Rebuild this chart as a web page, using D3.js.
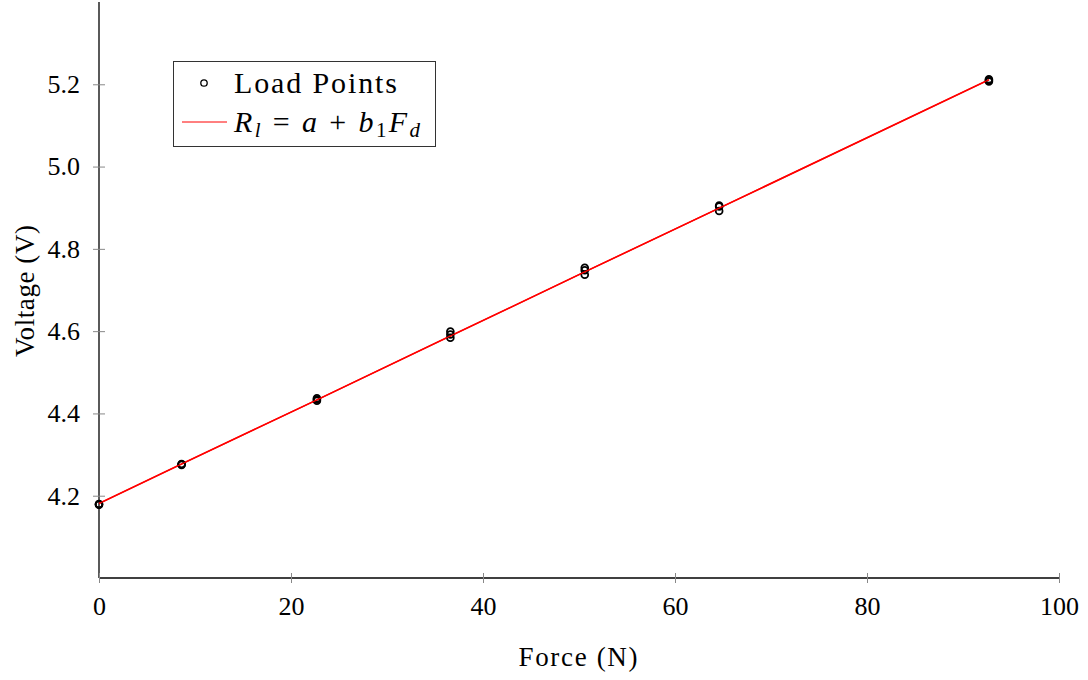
<!DOCTYPE html>
<html><head><meta charset="utf-8">
<script src="https://cdn.jsdelivr.net/npm/d3@7"></script>
<style>
body{margin:0;background:#fff;}
text{font-family:"Liberation Serif","DejaVu Serif",serif;}
</style></head>
<body><svg id="c" width="1088" height="680"></svg>
<script>
// Data
const forceLevels = [0, 8.6, 22.7, 36.6, 50.6, 64.6, 92.7];
const pointForce = [0,0,0, 8.6,8.6,8.6, 22.7,22.7,22.7, 36.6,36.6,36.6, 50.6,50.6,50.6, 64.6,64.6,64.6, 92.7,92.7,92.7];
const pointVoltage = [4.178,4.179,4.180, 4.275,4.277,4.276, 4.431,4.434,4.437, 4.584,4.592,4.599, 4.737,4.748,4.754, 4.892,4.905,4.903, 5.207,5.210,5.212];
const fitVoltage = [4.181, 4.277, 4.433, 4.588, 4.744, 4.899, 5.211];
const xTicks = [0, 20, 40, 60, 80, 100];
const yTicks = [4.2, 4.4, 4.6, 4.8, 5.0, 5.2];

const svg = d3.select("#c");
const x = d3.scaleLinear().domain([0, 100]).range([99, 1059]);
const y = d3.scaleLinear().domain([4.0, 5.4]).range([578, 2]);

// axes lines
svg.append("line").attr("x1",99).attr("x2",1059).attr("y1",578).attr("y2",578).attr("stroke","#000").attr("stroke-width",1.3);
svg.append("line").attr("x1",99).attr("x2",99).attr("y1",2).attr("y2",578).attr("stroke","#000").attr("stroke-width",1.3);

// x axis ticks
const xa = svg.append("g").attr("transform","translate(0,578)")
  .call(d3.axisBottom(x).tickValues(xTicks).tickSize(0).tickPadding(19).tickFormat(d3.format("d")));
xa.select(".domain").remove();
xa.selectAll("text").attr("font-size",26).attr("font-family","Liberation Serif, serif").attr("fill","#000");
xa.selectAll(".tick").append("line").attr("y1",-5).attr("y2",5).attr("stroke","#888").attr("stroke-width",1);

const ya = svg.append("g").attr("transform","translate(99,0)")
  .call(d3.axisLeft(y).tickValues(yTicks).tickSize(0).tickPadding(19).tickFormat(d3.format(".1f")));
ya.select(".domain").remove();
ya.selectAll("text").attr("font-size",26).attr("font-family","Liberation Serif, serif").attr("fill","#000");
ya.selectAll(".tick").append("line").attr("x1",-6).attr("x2",6).attr("stroke","#888").attr("stroke-width",1);

// fit line
const line = d3.line().x((d,i)=>x(forceLevels[i])).y(d=>y(d));
svg.append("path").datum(fitVoltage).attr("d",line).attr("fill","none").attr("stroke","#ff0000").attr("stroke-width",1.6);

// points
svg.append("g").selectAll("circle").data(pointVoltage).join("circle")
  .attr("cx",(d,i)=>x(pointForce[i])).attr("cy",d=>y(d)).attr("r",3.4)
  .attr("fill","none").attr("stroke","#000").attr("stroke-width",1.8);

// fit drawn over markers as in reference
svg.append("path").datum(fitVoltage).attr("d",line).attr("fill","none").attr("stroke","#ff0000").attr("stroke-width",1.2);

// legend
const lg = svg.append("g");
lg.append("rect").attr("x",173.5).attr("y",61.5).attr("width",262).attr("height",85).attr("fill","#fff").attr("stroke","#333").attr("stroke-width",1);
lg.append("circle").attr("cx",204).attr("cy",83).attr("r",3.2).attr("fill","none").attr("stroke","#000").attr("stroke-width",1.3);
lg.append("text").attr("x",234).attr("y",93).attr("font-size",30).attr("textLength",163).attr("lengthAdjust","spacing").text("Load Points");
lg.append("line").attr("x1",182).attr("x2",227).attr("y1",122).attr("y2",122).attr("stroke","#ff0000").attr("stroke-width",1);
const t2 = lg.append("text").attr("x",234).attr("y",132).attr("font-size",30).attr("textLength",186).attr("lengthAdjust","spacing");
t2.append("tspan").attr("font-style","italic").text("R");
t2.append("tspan").attr("font-style","italic").attr("font-size",21).attr("dy",5).text("l");
t2.append("tspan").attr("dy",-5).text(" = ");
t2.append("tspan").attr("font-style","italic").text("a");
t2.append("tspan").text(" + ");
t2.append("tspan").attr("font-style","italic").text("b");
t2.append("tspan").attr("font-size",21).attr("dy",5).text("1");
t2.append("tspan").attr("dy",-5).attr("font-style","italic").text("F");
t2.append("tspan").attr("font-style","italic").attr("font-size",21).attr("dy",5).text("d");

// axis labels
svg.append("text").attr("x",578).attr("y",666).attr("text-anchor","middle").attr("font-size",27).attr("textLength",119).attr("lengthAdjust","spacing").text("Force (N)");
svg.append("text").attr("transform","translate(34,291) rotate(-90)").attr("text-anchor","middle").attr("font-size",27).attr("textLength",132).attr("lengthAdjust","spacing").text("Voltage (V)");
</script></body></html>
